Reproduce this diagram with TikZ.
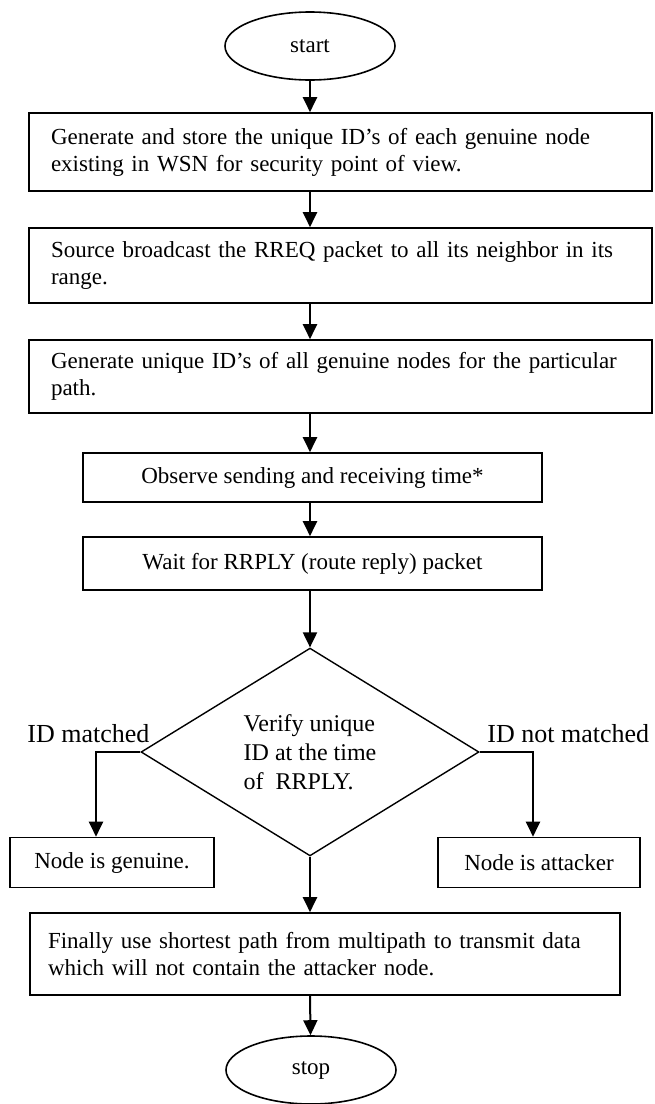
\documentclass[tikz,border=0pt]{standalone}
\usepackage{fontspec}
\setmainfont{Liberation Serif}
\usetikzlibrary{arrows.meta, shapes.geometric}
\tikzset{
  term/.style={draw, ellipse, line width=0.8pt, minimum width=85pt, minimum height=34pt, inner sep=0pt},
  stepbox/.style={draw, line width=0.8pt, text width=#1, inner xsep=11pt, inner ysep=0pt, align=left},
  midbox/.style={draw, line width=0.8pt, minimum width=#1, inner sep=0pt, align=center},
  test/.style={draw, diamond, line width=0.7pt, minimum width=169pt, minimum height=101.5pt, inner sep=0pt, align=left},
  arr/.style={-{Triangle[length=7.5pt, width=7pt]}, line width=1pt},
  lbl/.style={font=\fontsize{13}{15}\selectfont, inner sep=0pt},
}

\begin{document}
\begin{tikzpicture}[x=0.5pt, y=-0.5pt, font=\fontsize{11.5}{13.5}\selectfont]
    \useasboundingbox (0,0) rectangle (654,1104);

    \node[term] (start) at (310,46) {start};
    \node[stepbox=289.5pt, minimum height=39pt] (store) at (340.5,152)
      {Generate and store the unique ID's of each genuine node\\existing in WSN for security point of view.};
    \node[stepbox=289.5pt, minimum height=37.5pt] (rreq) at (340.5,265.5)
      {Source broadcast the RREQ packet to all its neighbor in its\\range.};
    \node[stepbox=289.5pt, minimum height=36.5pt] (ids) at (340.5,376.5)
      {Generate unique ID's of all genuine nodes for the particular\\path.};
    \node[midbox=229.5pt, minimum height=24.5pt] (observe) at (312.5,477.5) {Observe sending and receiving time*};
    \node[midbox=229.5pt, minimum height=26.5pt] (wait) at (312.5,563.5) {Wait for RRPLY (route reply) packet};
    \node[test, font=\fontsize{12}{14.5}\selectfont] (verify) at (310,752) {Verify unique\\ID at the time\\of \ RRPLY.};
    \node[midbox=102pt, minimum height=25pt] (genuine) at (112,862.5) {Node is genuine.};
    \node[midbox=101pt, minimum height=25pt] (attacker) at (539,862.5) {Node is attacker};
    \node[stepbox=277pt, inner xsep=9pt, minimum height=41pt] (final) at (325,954)
      {Finally use shortest path from multipath to transmit data\\which will not contain the attacker node.};
    \node[term] (stop) at (311,1070) {stop};

    % branch labels
    \node[lbl, anchor=base west] (matched) at (27,742) {ID matched};
    \node[lbl, anchor=base west] (notmatched) at (487,742) {ID not matched};

    \draw[arr] (start) -- (start |- store.north);
    \draw[arr] (start |- store.south) -- (start |- rreq.north);
    \draw[arr] (start |- rreq.south) -- (start |- ids.north);
    \draw[arr] (start |- ids.south) -- (start |- observe.north);
    \draw[arr] (start |- observe.south) -- (start |- wait.north);
    \draw[arr] (start |- wait.south) -- (verify.north);
    \draw[arr] (verify.west) -| ([xshift=-8pt]genuine.north);
    \draw[arr] (verify.east) -| ([xshift=-3pt]attacker.north);
    \draw[arr] (verify.south) -- (verify.south |- final.north);
    \draw[arr] (verify.south |- final.south) -- (stop);
  \end{tikzpicture}
\end{document}
